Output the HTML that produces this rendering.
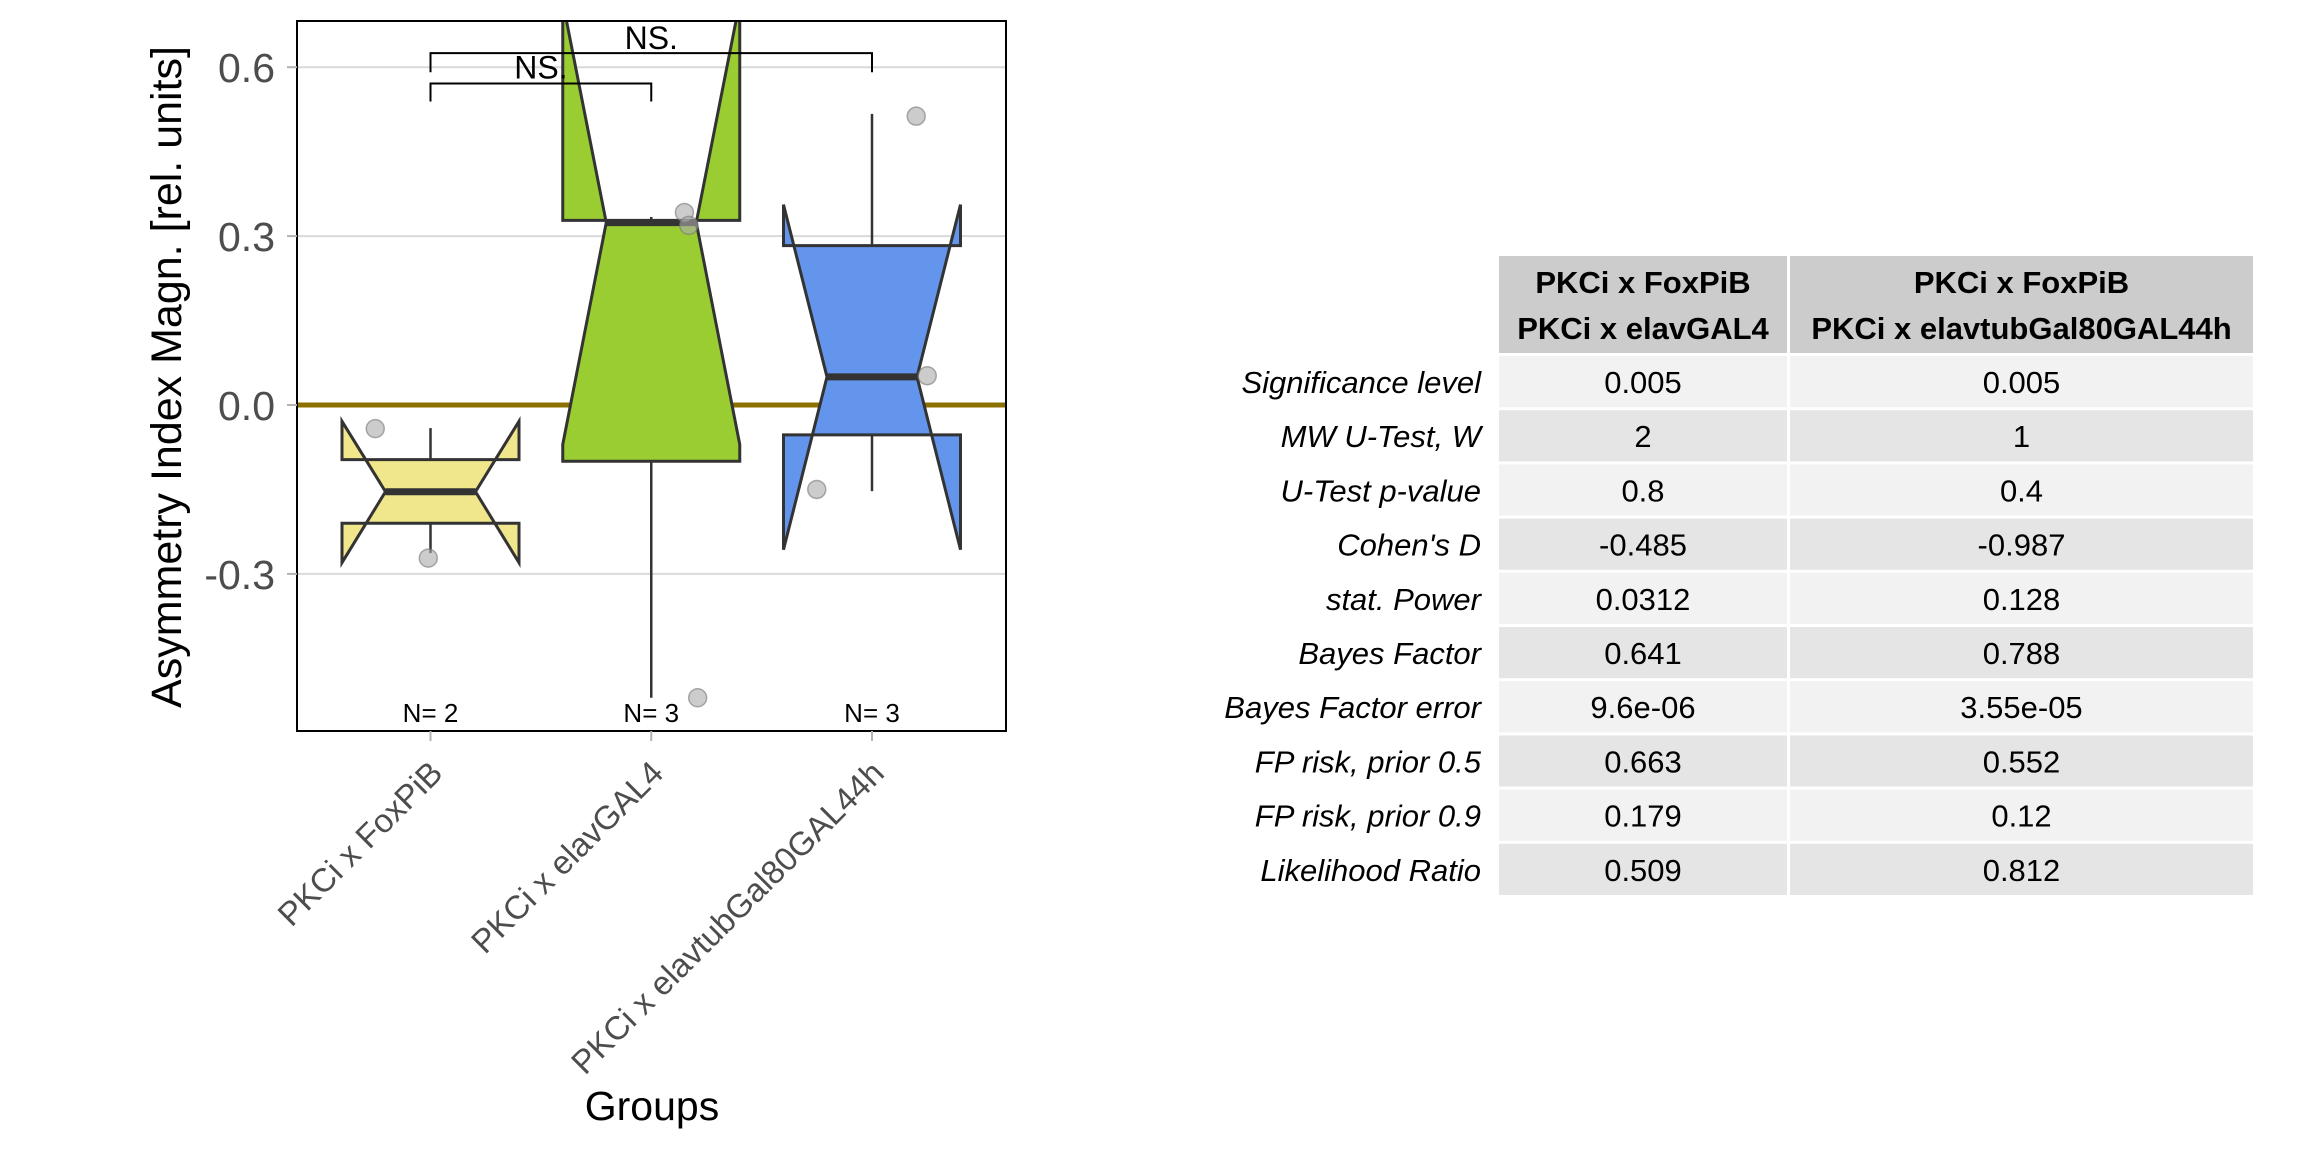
<!DOCTYPE html>
<html><head><meta charset="utf-8">
<style>
html,body{margin:0;padding:0;background:#fff;}
svg{display:block;font-family:"Liberation Sans",sans-serif;}
</style></head>
<body>
<svg id="chart" width="2304" height="1152" viewBox="0 0 2304 1152" xmlns="http://www.w3.org/2000/svg">
<defs><clipPath id="pclip"><rect x="297" y="21" width="709" height="710"/></clipPath></defs>
<rect x="0" y="0" width="2304" height="1152" fill="#fff"/>
<g id="grid"></g>
<g id="marks" clip-path="url(#pclip)"></g>
<rect x="297" y="21" width="709" height="710" fill="none" stroke="#000" stroke-width="2"/>
<g id="axes"></g>
<text x="0" y="0" transform="translate(181,377) rotate(-90)" text-anchor="middle" font-size="43" fill="#000">Asymmetry Index Magn. [rel. units]</text>
<text x="652" y="1120" text-anchor="middle" font-size="41" fill="#000">Groups</text>
<g id="table"></g>
</svg>
<script>
const categories = ["PKCi x FoxPiB", "PKCi x elavGAL4", "PKCi x elavtubGal80GAL44h"];
const q1 = [-0.21, -0.10, -0.053];
const medians = [-0.154, 0.324, 0.05];
const q3 = [-0.097, 0.328, 0.283];
const notchLow = [-0.28, -0.07, -0.257];
const notchHigh = [-0.029, 0.716, 0.356];
const whiskLow = [-0.263, -0.52, -0.153];
const whiskHigh = [-0.041, 0.334, 0.517];
const counts = [2, 3, 3];
const pointGroup = [0, 0, 1, 1, 1, 2, 2, 2];
const pointValue = [-0.042, -0.272, 0.342, 0.319, -0.52, 0.513, 0.052, -0.15];
const pointJitter = [-0.25, -0.01, 0.15, 0.17, 0.21, 0.2, 0.25, -0.25];
const yTicks = [-0.3, 0.0, 0.3, 0.6];
const yTickLabels = ["-0.3", "0.0", "0.3", "0.6"];
const fills = ["#F0E68C", "#9ACD32", "#6495ED"];
const brackets = [[0, 1, 0.571, 0.539, 0.58], [0, 2, 0.625, 0.591, 0.632]];

const SVGNS = "http://www.w3.org/2000/svg";
const px0 = 297, px1 = 1006;
function yS(v) { return 405 - v * 563; }
function xc(i) { return 430.5 + (872 - 430.5) / 2 * i; }
function mk(tag, attrs, parent) {
  const e = document.createElementNS(SVGNS, tag);
  for (const k in attrs) e.setAttribute(k, attrs[k]);
  parent.appendChild(e);
  return e;
}
const gridG = document.getElementById('grid');
const marksG = document.getElementById('marks');
const axesG = document.getElementById('axes');
const tableG = document.getElementById('table');

yTicks.forEach((t, i) => {
  const l = mk('line', {x1: px0, x2: px1, y1: yS(t), y2: yS(t), stroke: '#d9d9d9', 'stroke-width': 2}, gridG);
  
  
  const tk = mk('line', {x1: px0 - 10, x2: px0, y1: yS(t), y2: yS(t), stroke: '#b3b3b3', 'stroke-width': 2}, axesG);
  
  
  const tx = mk('text', {x: 275, y: yS(t) + 15, 'text-anchor': 'end', 'font-size': 41, fill: '#4d4d4d'}, axesG);
  tx.textContent = yTickLabels[i];
  
  
});

const zl = mk('line', {x1: px0, x2: px1, y1: yS(0), y2: yS(0), stroke: '#8B7000', 'stroke-width': 5}, marksG);



const hw = 88.5, nw = 45;
categories.forEach((c, i) => {
  const cx = xc(i);
  const w1 = mk('line', {x1: cx, x2: cx, y1: yS(q3[i]), y2: yS(whiskHigh[i]), stroke: '#333', 'stroke-width': 2.5}, marksG);
  
  
  const w2 = mk('line', {x1: cx, x2: cx, y1: yS(q1[i]), y2: yS(whiskLow[i]), stroke: '#333', 'stroke-width': 2.5}, marksG);
  
  
  const pts = [
    [cx - hw, yS(q3[i])], [cx - hw, yS(notchHigh[i])], [cx - nw, yS(medians[i])], [cx - hw, yS(notchLow[i])],
    [cx - hw, yS(q1[i])], [cx + hw, yS(q1[i])], [cx + hw, yS(notchLow[i])], [cx + nw, yS(medians[i])],
    [cx + hw, yS(notchHigh[i])], [cx + hw, yS(q3[i])]
  ];
  const b = mk('polygon', {points: pts.map(p => p.join(',')).join(' '), fill: fills[i], stroke: '#333', 'stroke-width': 3, 'stroke-linejoin': 'miter'}, marksG);
  
  
  const m = mk('line', {x1: cx - nw, x2: cx + nw, y1: yS(medians[i]), y2: yS(medians[i]), stroke: '#333', 'stroke-width': 7}, marksG);
  
  
  const n = mk('text', {x: cx, y: 722, 'text-anchor': 'middle', 'font-size': 26, fill: '#000'}, marksG);
  n.textContent = 'N= ' + counts[i];
  
  
  const xt = mk('line', {x1: cx, x2: cx, y1: 731, y2: 741, stroke: '#b3b3b3', 'stroke-width': 2}, axesG);
  
  
  const lb = mk('text', {x: 0, y: 0, transform: 'translate(' + (cx + 14) + ',775) rotate(-45)', 'text-anchor': 'end', 'font-size': 33, fill: '#4d4d4d'}, axesG);
  lb.textContent = c;
  
  
});

pointValue.forEach((v, k) => {
  const p = mk('circle', {cx: xc(pointGroup[k]) + pointJitter[k] * 221, cy: yS(v), r: 9, fill: 'rgba(170,170,170,0.6)', stroke: 'rgba(120,120,120,0.6)', 'stroke-width': 1.5}, marksG);
  
  
});

brackets.forEach(bk => {
  const xa = xc(bk[0]), xb = xc(bk[1]);
  const pl = mk('polyline', {points: xa + ',' + yS(bk[3]) + ' ' + xa + ',' + yS(bk[2]) + ' ' + xb + ',' + yS(bk[2]) + ' ' + xb + ',' + yS(bk[3]), fill: 'none', stroke: '#000', 'stroke-width': 2}, axesG);
  
  
  const t = mk('text', {x: (xa + xb) / 2, y: yS(bk[4]), 'text-anchor': 'middle', 'font-size': 32, fill: '#000'}, axesG);
  t.textContent = 'NS.';
  
  
});

// table
const header1 = ["PKCi x FoxPiB", "PKCi x FoxPiB"];
const header2 = ["PKCi x elavGAL4", "PKCi x elavtubGal80GAL44h"];
const rowLabels = ["Significance level", "MW U-Test, W", "U-Test p-value", "Cohen's D", "stat. Power", "Bayes Factor", "Bayes Factor error", "FP risk, prior  0.5", "FP risk, prior  0.9", "Likelihood Ratio"];
const col1 = ["0.005", "2", "0.8", "-0.485", "0.0312", "0.641", "9.6e-06", "0.663", "0.179", "0.509"];
const col2 = ["0.005", "1", "0.4", "-0.987", "0.128", "0.788", "3.55e-05", "0.552", "0.12", "0.812"];
const cx0 = 1499, cx1 = 1787, cx2 = 1790, cx3 = 2253;
const tTop = 256, hb = 353, pitch = 54.2;
[[cx0, cx1], [cx2, cx3]].forEach((c, j) => {
  const r = mk('rect', {x: c[0], y: tTop, width: c[1] - c[0], height: hb - tTop, fill: '#cccccc'}, tableG);
  
  
  const t1 = mk('text', {x: (c[0] + c[1]) / 2, y: 293, 'text-anchor': 'middle', 'font-size': 31, 'font-weight': 'bold', fill: '#000'}, tableG);
  t1.textContent = header1[j];
  
  
  const t2 = mk('text', {x: (c[0] + c[1]) / 2, y: 339, 'text-anchor': 'middle', 'font-size': 31, 'font-weight': 'bold', fill: '#000'}, tableG);
  t2.textContent = header2[j];
  
  
});
rowLabels.forEach((lab, i) => {
  const ry = hb + 3 + i * pitch;
  const fill = i % 2 === 0 ? '#f2f2f2' : '#e5e5e5';
  [[cx0, cx1, col1[i]], [cx2, cx3, col2[i]]].forEach(c => {
    const r = mk('rect', {x: c[0], y: ry, width: c[1] - c[0], height: pitch - 3, fill: fill}, tableG);
    
    
    const t = mk('text', {x: (c[0] + c[1]) / 2, y: ry + 37, 'text-anchor': 'middle', 'font-size': 31, fill: '#000'}, tableG);
    t.textContent = c[2];
    
    
  });
  const l = mk('text', {x: 1481, y: ry + 37, 'text-anchor': 'end', 'font-size': 31, 'font-style': 'italic', fill: '#000'}, tableG);
  l.textContent = lab;
  
  
});
</script>
</body></html>
